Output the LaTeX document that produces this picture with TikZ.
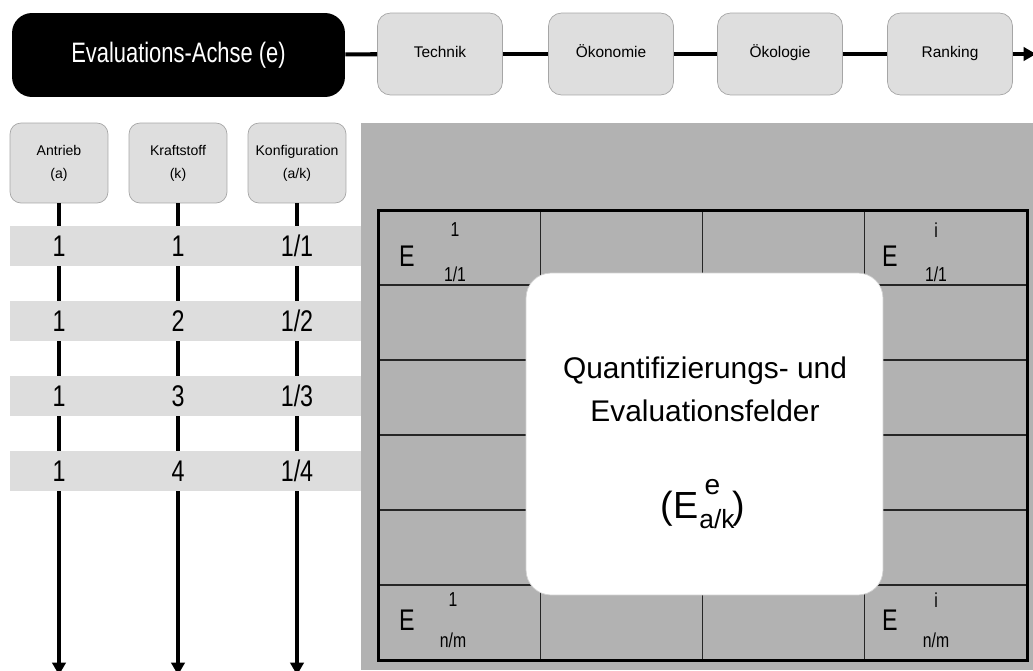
\documentclass[tikz,border=0pt]{standalone}
\usepackage{amsmath}
\usepackage{fontspec}
\setmainfont{Liberation Sans}
\newfontfamily\narrowsf[FakeStretch=0.78]{Liberation Sans}
\usetikzlibrary{arrows.meta}
\definecolor{panelgray}{RGB}{178,178,178}
\definecolor{boxgray}{RGB}{222,222,222}
\definecolor{bandgray}{RGB}{221,221,221}

\begin{document}
\begin{tikzpicture}[x=0.02cm, y=-0.02cm]
    \useasboundingbox (0,0) rectangle (1033,670);

    \tikzstyle{hnode} = [fill=black, text=white, rounded corners = 0.4cm, minimum width = 6.66cm, minimum height = 1.68cm, inner sep = 0pt, font=\narrowsf\fontsize{16}{18}\selectfont]
    \tikzstyle{enode} = [draw=gray!70, fill=boxgray, rounded corners = 0.26cm, minimum width = 2.5cm, minimum height = 1.64cm, inner sep = 0pt, text height = 6.5pt, text depth = 2pt, font=\fontsize{8.8}{10}\selectfont]
    \tikzstyle{dnode} = [draw=gray!70, fill=boxgray, rounded corners = 0.22cm, minimum width = 1.96cm, minimum height = 1.6cm, inner sep = 0pt, align=center, font=\fontsize{8}{13}\selectfont]
    \tikzstyle{band} = [fill=bandgray, minimum width = 7.02cm, minimum height = 0.8cm, inner sep = 0pt]
    \tikzstyle{num} = [inner sep = 0pt, font=\narrowsf\fontsize{17}{20}\selectfont]
    \tikzstyle{ebig} = [inner sep = 0pt, font=\narrowsf\fontsize{17}{18}\selectfont]
    \tikzstyle{esmall} = [inner sep = 0pt, font=\narrowsf\fontsize{11.5}{13}\selectfont]
    \tikzstyle{axis} = [line width = 2.3pt, -{Triangle[width=7.5pt,length=7pt]}]
    \tikzstyle{link} = [line width = 2.3pt]

    % evaluation axis
    \node[hnode] (evax) at (178.5,55) {Evaluations-Achse (e)};
    \node[enode] (technik) at (440,54) {Technik};
    \node[enode] (oekonomie) at (611,54) {Ökonomie};
    \node[enode] (oekologie) at (780,54) {Ökologie};
    \node[enode] (ranking) at (950,54) {Ranking};
    \coordinate (evend) at (1036,54);

    \draw[link] (evax) -- (technik);
    \draw[link] (technik) -- (oekonomie);
    \draw[link] (oekonomie) -- (oekologie);
    \draw[link] (oekologie) -- (ranking);
    \draw[axis] (ranking) -- (evend);

    % configuration axes
    \node[dnode] (antrieb) at (59,163) {Antrieb\\(a)};
    \node[dnode] (kraftstoff) at (178,163) {Kraftstoff\\(k)};
    \node[dnode] (konfig) at (297,163) {Konfiguration\\(a/k)};
    \coordinate (aend) at (59,675);
    \coordinate (kend) at (178,675);
    \coordinate (cend) at (297,675);

    \draw[axis] (antrieb) -- (aend);
    \draw[axis] (kraftstoff) -- (kend);
    \draw[axis] (konfig) -- (cend);

    \node[band] (b1) at (185.5,246) {};
    \node[band] (b2) at (185.5,321) {};
    \node[band] (b3) at (185.5,396) {};
    \node[band] (b4) at (185.5,471) {};

    \node[num] (a1) at (59,246) {1};
    \node[num] (k1) at (178,246) {1};
    \node[num] (c1) at (297,246) {1/1};
    \node[num] (a2) at (59,321) {1};
    \node[num] (k2) at (178,321) {2};
    \node[num] (c2) at (297,321) {1/2};
    \node[num] (a3) at (59,396) {1};
    \node[num] (k3) at (178,396) {3};
    \node[num] (c3) at (297,396) {1/3};
    \node[num] (a4) at (59,471) {1};
    \node[num] (k4) at (178,471) {4};
    \node[num] (c4) at (297,471) {1/4};

    % evaluation fields
    \fill[panelgray] (361,123) rectangle (1033,670);
    \begin{scope}[line width=0.6pt, black!85]
      \draw (540.25,210) -- (540.25,660);
      \draw (702.5,210) -- (702.5,660);
      \draw (864.75,210) -- (864.75,660);
      \draw (378,285) -- (1027,285);
      \draw (378,360) -- (1027,360);
      \draw (378,435) -- (1027,435);
      \draw (378,510) -- (1027,510);
      \draw (378,585) -- (1027,585);
    \end{scope}
    \draw[line width=1.7pt] (378,210) rectangle (1027,660);

    \node[ebig] (etl) at (407,256) {E};
    \node[esmall] (etlsup) at (455,230) {1};
    \node[esmall] (etlsub) at (455,274) {1/1};
    \node[ebig] (etr) at (890,256) {E};
    \node[esmall] (etrsup) at (936,230) {i};
    \node[esmall] (etrsub) at (936,274) {1/1};
    \node[ebig] (ebl) at (407,620) {E};
    \node[esmall] (eblsup) at (453,600) {1};
    \node[esmall] (eblsub) at (453,640) {n/m};
    \node[ebig] (ebr) at (890,620) {E};
    \node[esmall] (ebrsup) at (936,600) {i};
    \node[esmall] (ebrsub) at (936,640) {n/m};

    \node[draw=gray!35, fill=white, rounded corners = 0.5cm, minimum width = 7.14cm, minimum height = 6.44cm] (qbox) at (704.5,434) {};
    \node[align=center, font=\fontsize{17}{24.5}\selectfont] (qtext) at (705,389) {Quantifizierungs- und\\Evaluationsfelder};
    \node[font=\fontsize{21.5}{24}\selectfont] (qform) at (703,504) {(E\kern0.5pt\rlap{\kern3pt\raisebox{13.5pt}{\fontsize{16}{16}\selectfont e}}\raisebox{-5.5pt}{\fontsize{15}{15}\selectfont a/k}\kern-1pt)};
\end{tikzpicture}
\end{document}
